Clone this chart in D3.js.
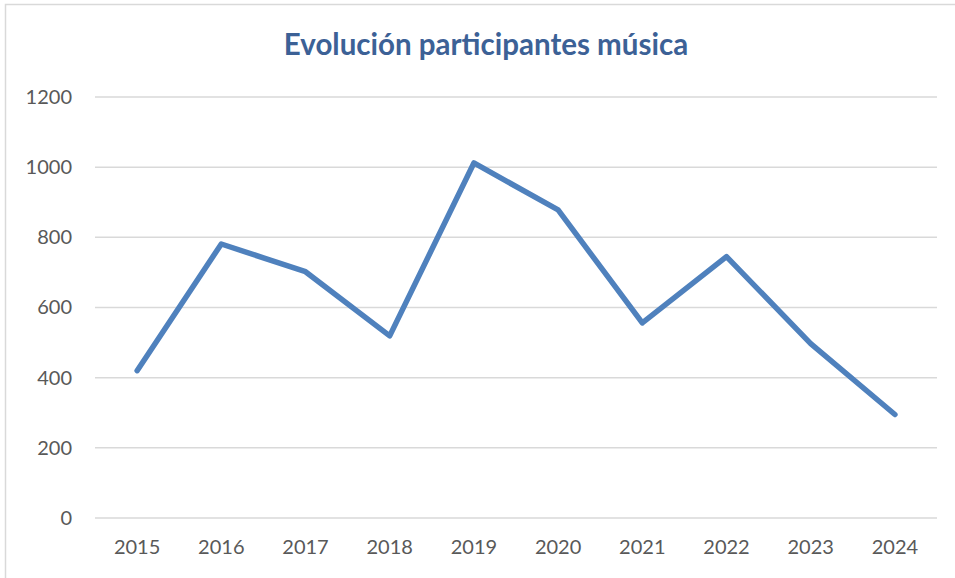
<!DOCTYPE html>
<html>
<head>
<meta charset="utf-8">
<script src="https://cdn.jsdelivr.net/npm/d3@7"></script>
<style>
    body { margin: 0; background: #ffffff; }
    svg { display: block; }
</style>
</head>
<body>
<svg id="chart_svg"></svg>
<script>
"use strict";

const width = 955;
const height = 578;

const plot_left = 95;
const plot_right = 937;
const plot_top = 97;
const plot_bottom = 518;

// data
const years = ["2015", "2016", "2017", "2018", "2019", "2020", "2021", "2022", "2023", "2024"];
const participants = [420, 781, 702, 519, 1012, 878, 556, 745, 497, 295];
const y_ticks = [0, 200, 400, 600, 800, 1000, 1200];

const title_text = "Evolución participantes música";

const svg1 = d3.select("#chart_svg")
    .attr("width", width)
    .attr("height", height);

// outer border of the chart area
svg1.append("rect")
    .attr("x", 5.5)
    .attr("y", 4.5)
    .attr("width", 1000)
    .attr("height", 700)
    .attr("fill", "none")
    .attr("stroke", "#d9d9d9")
    .attr("stroke-width", 1.5);

const xScale = d3.scaleBand()
    .domain(years)
    .range([plot_left, plot_right])
    .padding(0);

const yScale = d3.scaleLinear()
    .domain([0, 1200])
    .range([plot_bottom, plot_top]);

// gridlines
svg1.append("g")
    .selectAll("line")
    .data(y_ticks)
    .enter()
    .append("line")
    .attr("x1", plot_left)
    .attr("x2", plot_right)
    .attr("y1", d => yScale(d))
    .attr("y2", d => yScale(d))
    .attr("stroke", "#d9d9d9")
    .attr("stroke-width", 1.5);

// y axis labels
const yAxis = d3.axisLeft(yScale)
    .tickValues(y_ticks)
    .tickFormat(d3.format("d"))
    .tickSize(0)
    .tickPadding(23);

svg1.append("g")
    .attr("transform", `translate(${plot_left}, 0)`)
    .call(yAxis)
    .call(g => g.select(".domain").remove())
    .selectAll("text")
    .attr("fill", "#595959")
    .style("font-family", "Lato, 'Open Sans', sans-serif")
    .style("font-size", "20px");

// x axis labels
const xAxis = d3.axisBottom(xScale)
    .tickSize(0)
    .tickPadding(22);

svg1.append("g")
    .attr("transform", `translate(0, ${plot_bottom})`)
    .call(xAxis)
    .call(g => g.select(".domain").remove())
    .selectAll("text")
    .attr("fill", "#595959")
    .style("font-family", "Lato, 'Open Sans', sans-serif")
    .style("font-size", "20px");

// the line
const line = d3.line()
    .x((d, i) => xScale(years[i]) + xScale.bandwidth() / 2)
    .y(d => yScale(d));

svg1.append("path")
    .datum(participants)
    .attr("d", line)
    .attr("fill", "none")
    .attr("stroke", "#4f81bd")
    .attr("stroke-width", 5.5)
    .attr("stroke-linecap", "round")
    .attr("stroke-linejoin", "round");

// title
svg1.append("text")
    .attr("x", 486)
    .attr("y", 55)
    .attr("text-anchor", "middle")
    .attr("fill", "#3c6196")
    .style("font-family", "Lato, 'Open Sans', sans-serif")
    .style("font-weight", "bold")
    .style("font-size", "29.5px")
    .text(title_text);
</script>
</body>
</html>
